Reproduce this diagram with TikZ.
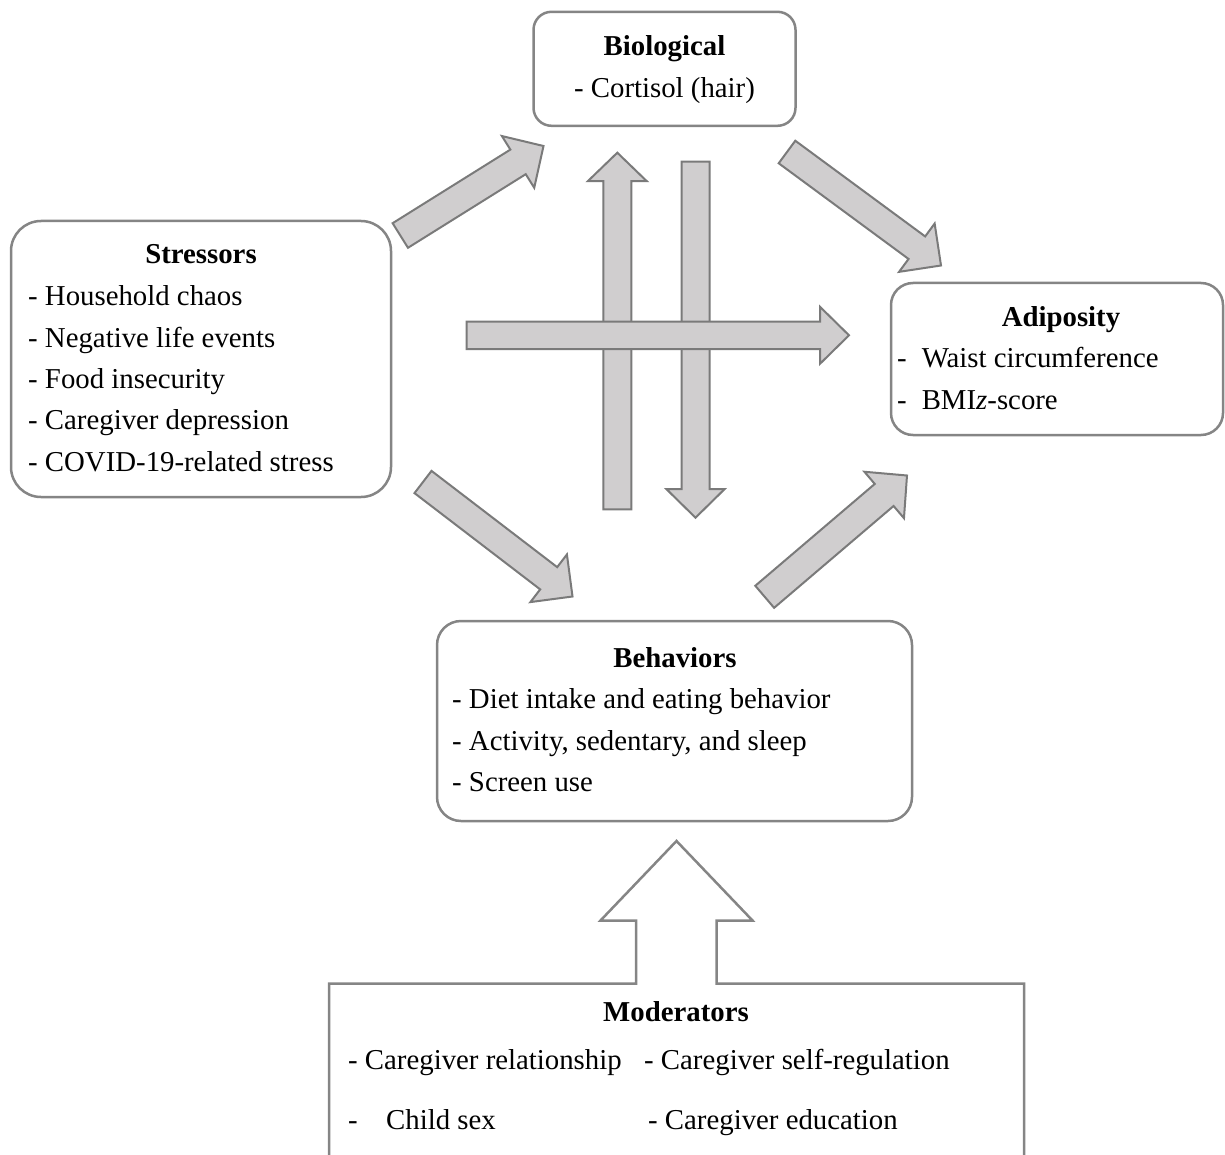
\documentclass[tikz,border=0pt]{standalone}
\usepackage{fontspec}
\setmainfont{Liberation Serif}[ItalicFont={Liberation Serif Italic},BoldFont={Liberation Serif Bold}]
\usetikzlibrary{calc}
\definecolor{boxline}{HTML}{858585}
\definecolor{arrline}{HTML}{7A7A7A}
\definecolor{arrfill}{HTML}{D0CECF}
\tikzset{
  roundbox/.style={draw=boxline, line width=2.5pt, fill=white, rounded corners=#1, inner sep=0pt},
  arrowbox/.style={draw=arrline, line width=2pt, fill=arrfill, line join=miter},
  modline/.style={draw=boxline, line width=2.5pt, line join=miter},
  txt/.style={anchor=base west, inner sep=0pt, font=\fontsize{28.8}{34}\selectfont},
  ttl/.style={anchor=base, inner sep=0pt, font=\fontsize{28.8}{34}\selectfont\bfseries},
  ctr/.style={anchor=base, inner sep=0pt, font=\fontsize{28.8}{34}\selectfont}
}
\newcommand\blockarrow[5]{%
  \coordinate (ba-c) at ($(#2)!#5!(#1)$);
  \draw[arrowbox] ($(#1)!#3!90:(#2)$) -- ($(ba-c)!#3!-90:(#1)$) -- ($(ba-c)!#4!-90:(#1)$) -- (#2)
    -- ($(ba-c)!#4!90:(#1)$) -- ($(ba-c)!#3!90:(#1)$) -- ($(#1)!#3!-90:(#2)$) -- cycle;
}
\begin{document}
\begin{tikzpicture}[x=1pt,y=-1pt]
\useasboundingbox (0,0) rectangle (1225,1155);

% boxes
\node[roundbox=18pt, minimum width=262pt, minimum height=114pt] (bio) at (664.5,68.8) {};
\node[roundbox=30pt, minimum width=380pt, minimum height=276pt] (str) at (201,359) {};
\node[roundbox=22pt, minimum width=332pt, minimum height=152pt] (adi) at (1057,359) {};
\node[roundbox=24pt, minimum width=475pt, minimum height=200pt] (beh) at (674.5,721) {};

% texts
\node[ttl] (bioT) at (664.5,56) {Biological};
\node[ctr] (bio1) at (664.5,97.5) {- Cortisol (hair)};

\node[ttl] (strT) at (201,264) {Stressors};
\node[txt] (str1) at (28,305.5) {- Household chaos};
\node[txt] (str2) at (28,347) {- Negative life events};
\node[txt] (str3) at (28,388.5) {- Food insecurity};
\node[txt] (str4) at (28,429.5) {- Caregiver depression};
\node[txt] (str5) at (28,471) {- COVID-19-related stress};

\node[ttl] (adiT) at (1061,326.5) {Adiposity};
\node[txt] (adi1) at (897,367.5) {-\hspace{15pt}Waist circumference};
\node[txt] (adi2) at (897,409) {-\hspace{15pt}BMI\textit{z}-score};

\node[ttl] (behT) at (675,667.5) {Behaviors};
\node[txt] (beh1) at (452,708.5) {- Diet intake and eating behavior};
\node[txt] (beh2) at (452,750.5) {- Activity, sedentary, and sleep};
\node[txt] (beh3) at (452,791.5) {- Screen use};

% moderators box with open arrow
\coordinate (mtl) at (329,983.5);
\coordinate (mtr) at (1024,983.5);
\coordinate (mtip) at (676.5,841);
\draw[modline] (329,1170) -- (mtl) -- (636,983.5) -- (636,920.5) -- (600.5,920.5) -- (mtip)
  -- (752.5,920.5) -- (716.5,920.5) -- (716.5,983.5) -- (mtr) -- (1024,1170);
\node[ttl] (modT) at (676,1021.5) {Moderators};
\node[txt] (mod1) at (348,1069.5) {- Caregiver relationship};
\node[txt] (mod2) at (644,1069.5) {- Caregiver self-regulation};
\node[txt] (mod3) at (348,1129.5) {-};
\node[txt] (mod4) at (386,1129.5) {Child sex};
\node[txt] (mod5) at (648,1129.5) {- Caregiver education};

% arrow end coordinates
\coordinate (a1s) at (400.3,235.5); \coordinate (a1e) at (543.5,146);
\coordinate (a2s) at (787,152);     \coordinate (a2e) at (941,265.5);
\coordinate (a3s) at (423,482);     \coordinate (a3e) at (572.5,596.5);
\coordinate (a4s) at (764.7,596.8); \coordinate (a4e) at (907,475.5);
\coordinate (vus) at (617.3,509.3); \coordinate (vue) at (617.3,152.7);
\coordinate (vds) at (695.5,161.7); \coordinate (vde) at (695.5,517.7);
\coordinate (hs)  at (466.7,335.3); \coordinate (he)  at (849,335.3);

\blockarrow{a1s}{a1e}{14.5pt}{30.5pt}{30pt}
\blockarrow{a2s}{a2e}{14pt}{30pt}{30pt}
\blockarrow{a3s}{a3e}{14pt}{30pt}{30pt}
\blockarrow{a4s}{a4e}{14.5pt}{30.5pt}{30pt}
\blockarrow{vus}{vue}{14pt}{29.5pt}{28.5pt}
\blockarrow{vds}{vde}{14pt}{29pt}{28.5pt}
\blockarrow{hs}{he}{13.7pt}{28.5pt}{29pt}
\end{tikzpicture}
\end{document}
